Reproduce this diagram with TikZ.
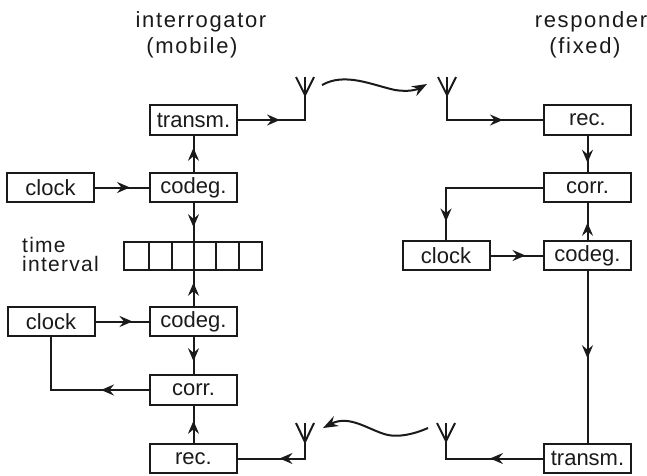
\documentclass[tikz,border=0pt]{standalone}
\usepackage{fontspec}
\setmainfont{Liberation Sans}
\newfontfamily\spaced[LetterSpace=7.5]{Liberation Sans}
\newfontfamily\spacedb[LetterSpace=6]{Liberation Sans}
\usetikzlibrary{arrows.meta,decorations.markings,calc}
\definecolor{ink}{HTML}{1A1A1A}
\tikzset{
  block/.style={draw=ink,line width=2pt,minimum width=87pt,minimum height=29.5pt,inner sep=0pt,outer sep=0pt,text=ink,font=\fontsize{22}{24}\selectfont},
  cell/.style={draw=ink,line width=2pt,minimum height=28pt,inner sep=0pt,outer sep=0pt},
  title/.style={text=ink,anchor=base,inner sep=0pt,font=\fontsize{22}{24}\selectfont\spaced},
  lab/.style={text=ink,anchor=base west,inner sep=0pt,font=\fontsize{21}{23}\selectfont\spacedb},
  wire/.style={draw=ink,line width=2pt},
  tipat/.style={postaction={decorate},decoration={markings,mark=at position #1pt with {\arrow[ink]{Stealth[length=13pt,width=11pt,inset=4.5pt]}}}},
  aerial/.style={draw=ink,line width=2pt},
  wave/.style={draw=ink,line width=2pt,-{Stealth[length=15pt,width=11pt,inset=5pt]}}
}
\begin{document}
\begin{tikzpicture}[x=1pt,y=-1pt]
\useasboundingbox (0,0) rectangle (647,475);
% titles
\node[title] (t1) at (201,27) {interrogator};
\node[title] (t2) at (192,53) {(mobile)};
\node[title] (t3) at (591,27) {responder};
\node[title] (t4) at (585,53) {(fixed)};
\node[lab] (l1) at (22,252) {time};
\node[lab] (l2) at (22,271) {interval};
% left column
\node[block] (ltr) at (193.5,120) {transm.};
\node[block] (lck1) at (50.5,187.5) {clock};
\node[block] (lcd1) at (193.5,187.5) {codeg.};
\node[block] (lck2) at (51,321.5) {clock};
\node[block] (lcd2) at (193.5,321.5) {codeg.};
\node[block] (lco) at (193.5,390) {corr.};
\node[block] (lre) at (193.5,458.5) {rec.};
% interval cells
\foreach \n/\a/\b in {1/124/149,2/149/171.5,3/171.5/193.5,4/193.5/216,5/216/239,6/239/262}{
  \node[cell,minimum width={(\b-\a)*1pt}] (c\n) at ({(\a+\b)/2},256) {};
}
% right column
\node[block] (rre) at (587.5,120) {rec.};
\node[block] (rco) at (587.5,187.5) {corr.};
\node[block] (rck) at (446,255.5) {clock};
\node[block] (rcd) at (587.5,255.5) {codeg.};
\node[block] (rtr) at (587.5,458.5) {transm.};
% antenna feet
\coordinate (a1) at (305,120);
\coordinate (a1j) at (305,95);
\coordinate (a1t) at (305,77);
\coordinate (a2) at (447,120);
\coordinate (a2j) at (447,95);
\coordinate (a2t) at (447,77);
\coordinate (a3) at (305,458.5);
\coordinate (a3j) at (305,442);
\coordinate (a3t) at (305,423);
\coordinate (a4) at (446,458.5);
\coordinate (a4j) at (446,441);
\coordinate (a4t) at (446,423);
\foreach \a in {a1,a2,a3,a4}{
  \draw[aerial] (\a j) -- (\a t);
  \draw[aerial] ($(\a t)+(-9,0)$) -- (\a j) -- ($(\a t)+(9,0)$);
}
% connectors left
\draw[wire,tipat=43] (ltr.east) -- (a1) -- (a1j);
\draw[wire,tipat=25] (lcd1.north) -- (ltr.south);
\draw[wire,tipat=36] (lck1.east) -- (lcd1.west);
\draw[wire,tipat=25] (lcd1.south) -- (c3.north east);
\draw[wire,tipat=24] (lcd2.north) -- (c3.south east);
\draw[wire,tipat=38] (lck2.east) -- (lcd2.west);
\draw[wire,tipat=25] (lcd2.south) -- (lco.north);
\draw[wire,tipat=23] (lre.north) -- (lco.south);
\draw[wire,tipat=49] (lco.west) -| (lck2.south);
\draw[wire,tipat=42] (a3j) -- (a3) -- (lre.east);
% connectors right
\draw[wire,tipat=81] (a2j) -- (a2) -- (rre.west);
\draw[wire,tipat=28] (rre.south) -- (rco.north);
\draw[wire,tipat=18] (rcd.north) -- (rco.south);
\draw[wire,tipat=132] (rco.west) -| (rck.north);
\draw[wire,tipat=36] (rck.east) -- (rcd.west);
\draw[wire,tipat=88] (rcd.south) -- (rtr.north);
\draw[wire,tipat=54] (rtr.west) -- (a4) -- (a4j);
% radio paths
\coordinate (w1s) at (322,85);
\coordinate (w1e) at (427,84);
\coordinate (w2s) at (428,428);
\coordinate (w2e) at (323,428);
\draw[wave] (w1s) .. controls (345,72) and (372,85) .. (395,90) .. controls (408,92) and (416,90) .. (w1e);
\draw[wave] (w2s) .. controls (412,435) and (398,437) .. (388,435) .. controls (370,431) and (350,414) .. (w2e);
\end{tikzpicture}
\end{document}
